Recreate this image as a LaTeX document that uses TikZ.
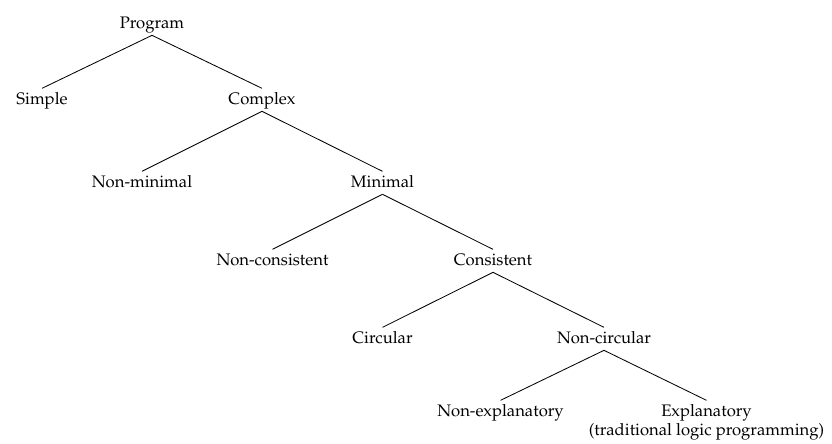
\documentclass[tikz,border=0pt]{standalone}
\usepackage[T1]{fontenc}
\usepackage{mathpazo}
\begin{document}
\begin{tikzpicture}[x=0.6pt,y=-0.6pt,
  lbl/.style={anchor=base,inner sep=2.2pt,text height=7pt,text depth=2pt,font=\fontsize{10}{12}\selectfont},
  sub/.style={anchor=base,inner sep=0pt,font=\fontsize{10}{12}\selectfont},
  edge/.style={line width=0.5pt}]
\useasboundingbox (0,0) rectangle (832,443);
\node[lbl] (program) at (152,28) {Program};
\node[lbl] (simple) at (42,104) {Simple};
\node[lbl] (complex) at (262,104) {Complex};
\node[lbl] (nonmin) at (142,187) {Non-minimal};
\node[lbl] (minimal) at (382.5,187) {Minimal};
\node[lbl] (noncons) at (272.5,265) {Non-consistent};
\node[lbl] (cons) at (493,265) {Consistent};
\node[lbl] (circ) at (382.5,343) {Circular};
\node[lbl] (noncirc) at (604,343) {Non-circular};
\node[lbl] (nonexpl) at (500.5,416) {Non-explanatory};
\node[lbl] (expl) at (706.5,416) {Explanatory};
\node[sub] (expl2) at (706.5,435) {(traditional logic programming)};
\draw[edge] (program.south) -- (simple.north);
\draw[edge] (program.south) -- (complex.north);
\draw[edge] (complex.south) -- (nonmin.north);
\draw[edge] (complex.south) -- (minimal.north);
\draw[edge] (minimal.south) -- (noncons.north);
\draw[edge] (minimal.south) -- (cons.north);
\draw[edge] (cons.south) -- (circ.north);
\draw[edge] (cons.south) -- (noncirc.north);
\draw[edge] (noncirc.south) -- (nonexpl.north);
\draw[edge] (noncirc.south) -- (expl.north);
\end{tikzpicture}
\end{document}
